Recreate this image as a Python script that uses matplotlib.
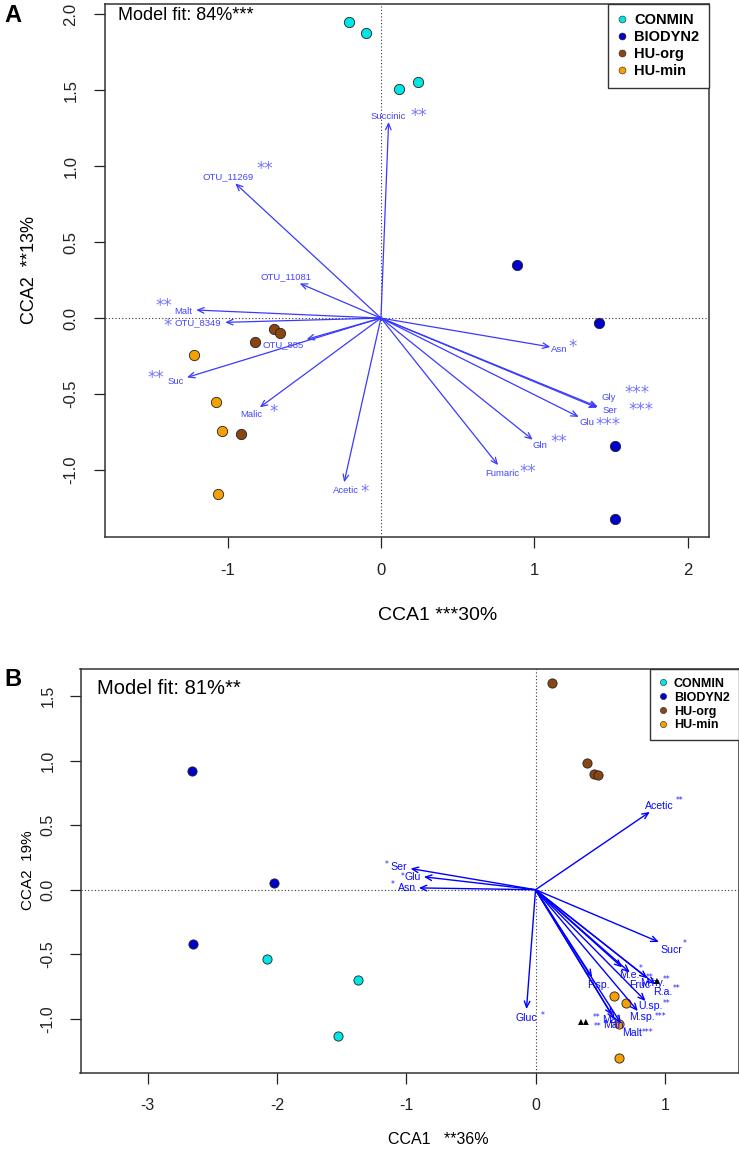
import matplotlib
matplotlib.use("Agg")
import matplotlib.pyplot as plt
from matplotlib.lines import Line2D

plt.rcParams['font.family'] = ['Liberation Sans', 'DejaVu Sans']
plt.rcParams['axes.unicode_minus'] = False

# ---------------- data ----------------
groups = ["CONMIN", "BIODYN2", "HU-org", "HU-min"]
group_colors = ["#00E5E5", "#0000CD", "#8B4513", "#F5A000"]

# Panel A: site scores
a_conmin_x = [-0.21, -0.095, 0.12, 0.24]
a_conmin_y = [1.945, 1.873, 1.51, 1.55]
a_biodyn_x = [0.89, 1.42, 1.53, 1.525]
a_biodyn_y = [0.35, -0.03, -0.84, -1.32]
a_huorg_x = [-0.70, -0.66, -0.82, -0.915]
a_huorg_y = [-0.074, -0.10, -0.16, -0.76]
a_humin_x = [-1.22, -1.076, -1.037, -1.063]
a_humin_y = [-0.245, -0.55, -0.74, -1.16]

# Panel A: biplot arrows
a_vars = ["Succinic", "OTU_11269", "OTU_11081", "Malt", "OTU_8349", "OTU_885",
          "Suc", "Malic", "Acetic", "Asn", "Gly", "Ser", "Glu", "Gln", "Fumaric"]
a_cca1 = [0.05, -0.95, -0.53, -1.205, -1.016, -0.485, -1.265, -0.79, -0.24,
          1.105, 1.415, 1.41, 1.29, 0.99, 0.764]
a_cca2 = [1.29, 0.886, 0.228, 0.053, -0.028, -0.14, -0.39, -0.587, -1.08,
          -0.19, -0.584, -0.59, -0.65, -0.80, -0.967]
a_sig = ["**", "**", "", "**", "*", "", "**", "*", "*", "*", "***", "***",
         "***", "**", "**"]

# Panel B: site scores
b_conmin_x = [-2.08, -1.37, -1.53]
b_conmin_y = [-0.54, -0.70, -1.135]
b_biodyn_x = [-2.66, -2.02, -2.65]
b_biodyn_y = [0.92, 0.05, -0.42]
b_huorg_x = [0.13, 0.40, 0.45, 0.48]
b_huorg_y = [1.60, 0.98, 0.90, 0.89]
b_humin_x = [0.61, 0.70, 0.645, 0.645]
b_humin_y = [-0.82, -0.88, -1.04, -1.30]

# Panel B: biplot arrows
b_vars = ["Acetic", "Sucr", "Ser", "Glu", "Asn", "Gluc", "P.sp.", "M.e.", "Fruc",
          "M.hy.", "R.a.", "U.sp.", "M.sp.", "Malt", "Mal.", "Man."]
b_cca1 = [0.884, 0.954, -0.967, -0.864, -0.903, -0.07, 0.438, 0.670, 0.729,
          0.866, 0.928, 0.851, 0.791, 0.660, 0.593, 0.611]
b_cca2 = [0.603, -0.405, 0.164, 0.10, 0.014, -0.925, -0.678, -0.602, -0.641,
          -0.686, -0.733, -0.862, -0.940, -1.035, -0.973, -1.004]
b_sig = ["**", "*", "*", "*", "*", "*", "", "*", "**", "**", "**", "**", "***",
         "***", "**", "**"]
b_tri = {"M.hy.": "\u25B2", "Mal.": "\u25B2\u25B2"}

# ---------------- layout (pixel offsets) ----------------
a_label_off = {"Succinic": (0, -5, "center"), "OTU_11269": (-7, -7, "center"),
               "OTU_11081": (-14, -7, "center"), "Malt": (-4, 1, "right"),
               "OTU_8349": (-4, 0, "right"), "OTU_885": (-3, 5, "right"),
               "Suc": (-3, 4, "right"), "Malic": (-9, 7, "center"),
               "Acetic": (2, 8, "center"), "Asn": (1, 3, "left"),
               "Gly": (4, -9, "left"), "Ser": (5, 3, "left"), "Glu": (1, 6, "left"),
               "Gln": (0, 6, "left"), "Fumaric": (-13, 8, "left")}
a_star_off = {"Succinic": ("r", 4, 5), "OTU_11269": ("r", 3, 12), "Malt": ("l", 2, 10),
              "OTU_8349": ("l", 3, 1), "Suc": ("l", 3, 8), "Malic": ("r", 8, 7),
              "Acetic": ("r", 1, 3), "Asn": ("r", 1, 7), "Gly": ("r", 8, 9),
              "Ser": ("r", 12, 5), "Glu": ("r", 1, 2), "Gln": ("r", 3, 8),
              "Fumaric": ("r", 0, 6)}
b_label_off = {"Acetic": (-5, -6, "left"), "Sucr": (2, 8, "left"),
               "Ser": (-3, -2, "right"), "Glu": (-3, 0, "right"), "Asn": (-3, 0, "right"),
               "Gluc": (0, 9, "center"), "P.sp.": (6, 8, "center"), "M.e.": (-3, 8, "left"),
               "Fruc": (-1, 13, "left"), "M.hy.": (-7, 5, "left"), "R.a.": (-2, 8, "left"),
               "U.sp.": (-7, 5, "left"), "M.sp.": (-9, 6, "left"), "Malt": (1, 10, "left"),
               "Mal.": (-10, 5, "left"), "Man.": (-11, 6, "left")}
b_star_off = {"Acetic": ("r", 2, 8), "Sucr": ("r", 0, 9), "Ser": ("l", 2, 5),
              "Glu": ("l", 0, 3), "Asn": ("l", 3, 6), "Gluc": ("r", 3, 5),
              "M.e.": ("r", -1, 9), "Fruc": ("r", -4, 10), "M.hy.": ("r", -3, 6),
              "R.a.": ("r", 0, 6), "U.sp.": ("r", 0, 5), "M.sp.": ("r", 0, 3),
              "Malt": ("r", 0, 3), "Mal.": ("l", 2, 5), "Man.": ("l", 2, 1)}

W, H = 739, 1149
fig = plt.figure(figsize=(W / 100, H / 100), dpi=100)


def box(l, t, r, b):
    return [l / W, 1 - b / H, (r - l) / W, (b - t) / H]


axA = fig.add_axes(box(105, 4, 709, 537))
axB = fig.add_axes(box(80.5, 669, 738.5, 1073))


def style_axes(ax, xlim, ylim, xt, yt, tsize, pad):
    ax.set_xlim(*xlim)
    ax.set_ylim(*ylim)
    ax.set_xticks(xt)
    ax.set_xticklabels([f"{v:g}" for v in xt])
    ax.set_yticks(yt)
    ax.set_yticklabels([f"{v:.1f}" for v in yt], rotation=90, va="center")
    ax.tick_params(direction="out", length=8, width=0.9, labelsize=tsize, pad=pad,
                   colors="#222222")
    for s in ax.spines.values():
        s.set_linewidth(1.1)
        s.set_color("#333333")
    ax.axhline(0, color="#333333", lw=0.8, ls=(0, (1, 2)), zorder=1)
    ax.axvline(0, color="#333333", lw=0.8, ls=(0, (1, 2)), zorder=1)


style_axes(axA, (-1.80, 2.14), (-1.44, 2.066), [-1, 0, 1, 2],
           [-1.0, -0.5, 0.0, 0.5, 1.0, 1.5, 2.0], 12, 11)
style_axes(axB, (-3.52, 1.57), (-1.42, 1.71), [-3, -2, -1, 0, 1],
           [-1.0, -0.5, 0.0, 0.5, 1.0, 1.5], 11.5, 10)


def draw_points(ax, xs, ys, s):
    for (x, y), c in zip(zip(xs, ys), group_colors):
        ax.scatter(x, y, s=s, c=c, edgecolors="#222222", linewidths=0.6, zorder=3)


draw_points(axA, [a_conmin_x, a_biodyn_x, a_huorg_x, a_humin_x],
            [a_conmin_y, a_biodyn_y, a_huorg_y, a_humin_y], 55)
draw_points(axB, [b_conmin_x, b_biodyn_x, b_huorg_x, b_humin_x],
            [b_conmin_y, b_biodyn_y, b_huorg_y, b_humin_y], 44)


def draw_arrows(ax, names, xs, ys, sigs, loff, soff, acol, lcol, scol, lw,
                lsize, ssize, scorr, sfam, tri=None):
    for n, x, y, sg in zip(names, xs, ys, sigs):
        ax.annotate("", xy=(x, y), xytext=(0, 0), zorder=4,
                    arrowprops=dict(arrowstyle="->,head_length=0.45,head_width=0.2",
                                    color=acol, lw=lw, shrinkA=0, shrinkB=0,
                                    mutation_scale=10))
        dx, dy, ha = loff[n]
        t = ax.annotate(n, xy=(x, y), xytext=(dx, -dy), textcoords="offset pixels",
                        ha=ha, va="center", fontsize=lsize, color=lcol, zorder=5)
        if sg:
            side, gap, up = soff[n]
            if side == "r":
                st = ax.annotate(sg, xy=(1, 0.5), xycoords=t, xytext=(gap, up - scorr),
                                 textcoords="offset pixels", ha="left", va="center",
                                 fontsize=ssize, color=scol, family=sfam, zorder=5)
            else:
                st = ax.annotate(sg, xy=(0, 0.5), xycoords=t, xytext=(-gap, up - scorr),
                                 textcoords="offset pixels", ha="right", va="center",
                                 fontsize=ssize, color=scol, family=sfam, zorder=5)
            if tri and n in tri:
                ax.annotate(tri[n], xy=(0, 0.5), xycoords=st,
                            xytext=(-3, -1 if n != "Mal." else -4),
                            textcoords="offset pixels", ha="right", va="center",
                            fontsize=5.5, color="black", family="DejaVu Sans", zorder=5)


draw_arrows(axA, a_vars, a_cca1, a_cca2, a_sig, a_label_off, a_star_off,
            "#3a3aff", "#4444ff", "#7474ff", 0.9, 6.8, 12, 4.5, "DejaVu Sans")
draw_arrows(axB, b_vars, b_cca1, b_cca2, b_sig, b_label_off, b_star_off,
            "#0000ff", "#0a0aff", "#2020ff", 1.0, 7.6, 5.5, 2.5, "DejaVu Sans", b_tri)


def legend(ax, size, mark, lsp, bpad, hl, htp):
    handles = [Line2D([], [], ls="none", marker="o", ms=mark, mfc=c, mec="#222222",
                      mew=0.4) for c in group_colors]
    lg = ax.legend(handles, groups, loc="upper right", bbox_to_anchor=(1, 1),
                   borderaxespad=0, fancybox=False, framealpha=1, edgecolor="#333333",
                   prop=dict(weight="bold", size=size), labelspacing=lsp,
                   borderpad=bpad, handlelength=hl, handletextpad=htp)
    lg.get_frame().set_linewidth(1.0)
    lg.set_zorder(6)


legend(axA, 10.5, 5, 0.2, 0.65, 0.6, 0.55)
legend(axB, 9, 4.5, 0.15, 0.7, 0.6, 0.6)

# texts
fig.text(118 / W, 1 - 16 / H, "Model fit: 84%***", fontsize=13, ha="left", va="center")
fig.text(97 / W, 1 - 688 / H, "Model fit: 81%**", fontsize=14.5, ha="left", va="center")
fig.text(13 / W, 1 - 15 / H, "A", fontsize=17, fontweight="bold", ha="center", va="center")
fig.text(13 / W, 1 - 680 / H, "B", fontsize=17, fontweight="bold", ha="center", va="center")
fig.text(438 / W, 1 - 615 / H, "CCA1 ***30%", fontsize=14, ha="center", va="center")
fig.text(438 / W, 1 - 1140 / H, "CCA1   **36%", fontsize=11.5, ha="center", va="center")
fig.text(30 / W, 1 - 270 / H, "CCA2  **13%", fontsize=13, rotation=90, ha="center", va="center")
fig.text(28 / W, 1 - 870 / H, "CCA2  19%", fontsize=11, rotation=90, ha="center", va="center")

fig.savefig("out.png", dpi=100)
